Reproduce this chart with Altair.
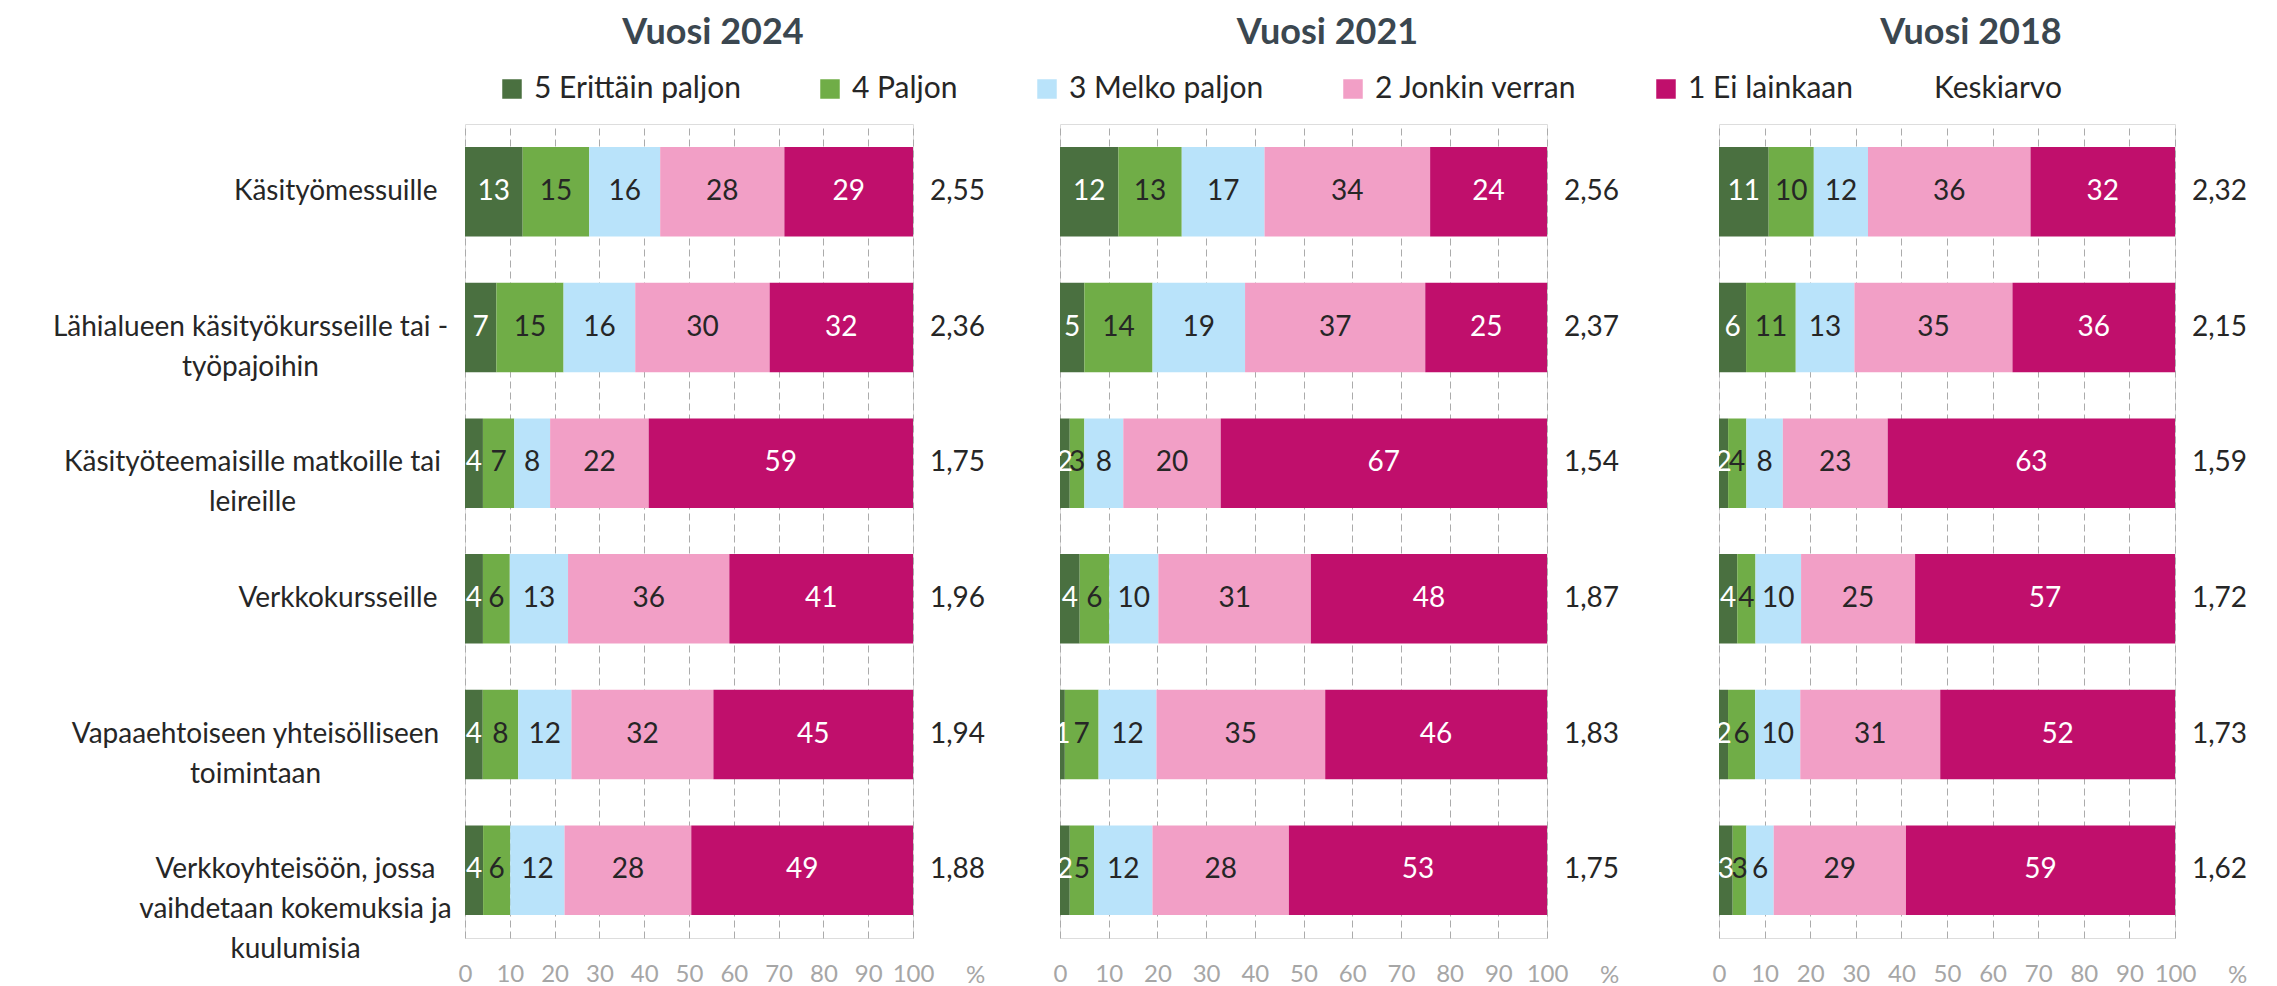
import altair as alt
import pandas as pd

FONT = "Lato"

years = ["Vuosi 2024", "Vuosi 2021", "Vuosi 2018"]
categories = [
    "Käsityömessuille",
    "Lähialueen käsityökursseille tai -|työpajoihin",
    "Käsityöteemaisille matkoille tai|leireille",
    "Verkkokursseille",
    "Vapaaehtoiseen yhteisölliseen|toimintaan",
    "Verkkoyhteisöön, jossa|vaihdetaan kokemuksia ja|kuulumisia",
]
levels = ["5 Erittäin paljon", "4 Paljon", "3 Melko paljon", "2 Jonkin verran", "1 Ei lainkaan"]
mean_label = "Keskiarvo"
level_colors = ["#4a7040", "#70ad47", "#b9e3fa", "#f29fc6", "#c00f6c"]

# 2024
v2024_5 = [13, 7, 4, 4, 4, 4]
v2024_4 = [15, 15, 7, 6, 8, 6]
v2024_3 = [16, 16, 8, 13, 12, 12]
v2024_2 = [28, 30, 22, 36, 32, 28]
v2024_1 = [29, 32, 59, 41, 45, 49]
mean_2024 = [2.55, 2.36, 1.75, 1.96, 1.94, 1.88]
# 2021
v2021_5 = [12, 5, 2, 4, 1, 2]
v2021_4 = [13, 14, 3, 6, 7, 5]
v2021_3 = [17, 19, 8, 10, 12, 12]
v2021_2 = [34, 37, 20, 31, 35, 28]
v2021_1 = [24, 25, 67, 48, 46, 53]
mean_2021 = [2.56, 2.37, 1.54, 1.87, 1.83, 1.75]
# 2018
v2018_5 = [11, 6, 2, 4, 2, 3]
v2018_4 = [10, 11, 4, 4, 6, 3]
v2018_3 = [12, 13, 8, 10, 10, 6]
v2018_2 = [36, 35, 23, 25, 31, 29]
v2018_1 = [32, 36, 63, 57, 52, 59]
mean_2018 = [2.32, 2.15, 1.59, 1.72, 1.73, 1.62]

series = {
    "Vuosi 2024": ([v2024_5, v2024_4, v2024_3, v2024_2, v2024_1], mean_2024),
    "Vuosi 2021": ([v2021_5, v2021_4, v2021_3, v2021_2, v2021_1], mean_2021),
    "Vuosi 2018": ([v2018_5, v2018_4, v2018_3, v2018_2, v2018_1], mean_2018),
}

panel_widths = {"Vuosi 2024": 448, "Vuosi 2021": 487, "Vuosi 2018": 456}
PLOT_H = 814
TXT = "#262626"
GRAY = "#a6a6a6"
LABEL_PAD = 28
# half of the widest line of each multi-line label (to centre the lines)
half_widest = {
    categories[1]: 187,
    categories[2]: 185,
    categories[4]: 182,
    categories[5]: 142,
}

color_legend = alt.Legend(
    orient="none", legendX=32, legendY=-50, direction="horizontal", columns=5,
    gridAlign="none", title=None, symbolType="square", symbolSize=380,
    symbolStrokeWidth=0, labelFontSize=30, labelFont=FONT, labelColor=TXT,
    columnPadding=74, labelOffset=7, labelLimit=400,
)
mean_legend = alt.Legend(
    orient="none", legendX=1439, legendY=-50, direction="horizontal", title=None,
    symbolSize=0, symbolOpacity=0, symbolStrokeWidth=0, labelOffset=0,
    labelFontSize=30, labelFont=FONT, labelColor=TXT, labelLimit=400,
)


def panel(year, first):
    vals, means = series[year]
    rows = []
    for li, lv in enumerate(levels):
        for ci, cat in enumerate(categories):
            rows.append({"category": cat, "level": lv, "order": li, "value": vals[li][ci]})
    df = pd.DataFrame(rows)
    mdf = pd.DataFrame({"category": categories, "mean": means, "series": mean_label})
    w = panel_widths[year]

    yaxis = None
    if first:
        pad_conds = [
            {"test": "datum.value == '%s'" % c, "value": LABEL_PAD + hw}
            for c, hw in half_widest.items()
        ]
        yaxis = alt.Axis(
            labelExpr="split(datum.label, '|')",
            labelAlign={"condition": {"test": "indexof(datum.value, '|') >= 0", "value": "center"},
                        "value": "right"},
            labelPadding={"condition": pad_conds, "value": LABEL_PAD},
            labelFontSize=28, labelFont=FONT, labelColor=TXT, ticks=False, domain=False,
            labelLineHeight=40, labelLimit=700, grid=False, title=None,
        )
    yenc = alt.Y(
        "category:N", sort=categories, title=None,
        scale=alt.Scale(domain=categories, paddingInner=0.34, paddingOuter=0.17),
        axis=yaxis,
    )
    xaxis = alt.Axis(
        values=list(range(0, 101, 10)), grid=True, gridDash=[7, 4], gridColor="#ababab",
        gridWidth=1, domain=False, ticks=False, labelColor=GRAY, labelFontSize=24,
        labelFont=FONT, labelPadding=24, labelFlush=False, title="%",
        titleX=w + 62, titleY=37, titleAlign="center", titleBaseline="middle",
        titleColor=GRAY, titleFontSize=24, titleFontWeight="normal", titleFont=FONT,
    )

    base = (
        alt.Chart(df)
        .transform_joinaggregate(total="sum(value)", groupby=["category"])
        .transform_window(cum="sum(value)", sort=[alt.SortField("order")],
                          groupby=["category"], frame=[None, 0])
        .transform_calculate(
            x1="(datum.cum - datum.value) / datum.total * 100",
            x2="datum.cum / datum.total * 100",
            xm="(datum.cum - datum.value / 2) / datum.total * 100",
        )
    )
    bars = base.mark_bar().encode(
        x=alt.X("x1:Q", scale=alt.Scale(domain=[0, 100], nice=False, zero=True), axis=xaxis),
        x2="x2:Q",
        y=yenc,
        color=alt.Color("level:N", scale=alt.Scale(domain=levels, range=level_colors),
                        legend=color_legend),
    )
    labels = base.mark_text(fontSize=28, font=FONT, baseline="middle").encode(
        x="xm:Q",
        y=yenc,
        text="value:Q",
        color=alt.condition("datum.order == 0 || datum.order == 4",
                            alt.value("#ffffff"), alt.value(TXT)),
    )
    mean_txt = (
        alt.Chart(mdf)
        .transform_calculate(txt="replace(format(datum.mean, '.2f'), '.', ',')")
        .mark_text(align="left", dx=17, fontSize=28, font=FONT, color=TXT, baseline="middle")
        .encode(
            x=alt.datum(100), y=yenc, text="txt:N",
            opacity=alt.Opacity("series:N", scale=alt.Scale(domain=[mean_label], range=[1]),
                                legend=mean_legend),
        )
    )
    return alt.layer(bars, labels, mean_txt).properties(
        width=w, height=PLOT_H,
        title=alt.TitleParams(text=year, fontSize=36, font=FONT, fontWeight="bold",
                              color="#3b4750", anchor="middle", offset=72, dx=24),
    )


def spacer(width):
    return alt.Chart(pd.DataFrame({"v": []})).mark_point(opacity=0).properties(
        width=width, height=PLOT_H)


p1 = panel("Vuosi 2024", True)
p2 = panel("Vuosi 2021", False)
p3 = panel("Vuosi 2018", False)

chart = (
    alt.hconcat(p1, spacer(1), p2, spacer(26), p3, spacing=73, bounds="flush")
    .resolve_scale(color="shared", opacity="shared")
    .properties(padding={"left": 43, "top": 6, "right": 5, "bottom": 0})
    .configure_view(stroke=None)
    .configure(font=FONT)
)

chart.save("out.html", embed_options={"renderer": "svg", "actions": False})
